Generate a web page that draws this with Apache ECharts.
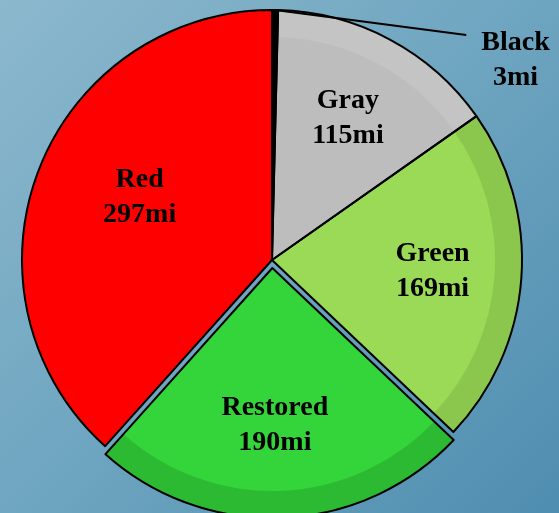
<!DOCTYPE html>
<html>
<head>
<meta charset="utf-8">
<script src="https://cdn.jsdelivr.net/npm/echarts@6/dist/echarts.min.js"></script>
<style>
html,body{margin:0;padding:0;}
#c{width:559px;height:513px;background:linear-gradient(135deg,#8cb8cd 0%,#6ea5c0 50%,#4f8db0 100%);}
</style>
</head>
<body>
<div id="c"></div>
<script>
const categories = ['Black', 'Gray', 'Green', 'Restored', 'Red'];
const miles = [3, 115, 169, 190, 297];
const baseColors = ['#000000', '#bdbdbd', '#9bda57', '#33d53a', '#ff0000'];
const ringColors = ['#000000', '#c4c4c4', '#8bc74c', '#2dba33', '#ff0000'];
const selectedName = 'Restored';

const chart = echarts.init(document.getElementById('c'), null, {renderer: 'canvas'});
const C = [272, 260];
const R = 250;
const font = {fontFamily: 'Liberation Serif', fontWeight: 'bold', fontSize: 28, color: '#000', lineHeight: 35};

function mk(colors) {
  return categories.map((n, i) => ({
    name: n, value: miles[i], selected: n === selectedName,
    itemStyle: {color: colors[i]}
  }));
}
const common = {
  type: 'pie', center: C, startAngle: 90, clockwise: true,
  selectedMode: 'single', selectedOffset: 8, animation: false, silent: true,
  avoidLabelOverlap: false, minAngle: 0
};
const labelShift = {Red: [18, -5], Restored: [-4, -4]};
chart.setOption({
  backgroundColor: 'transparent',
  series: [
    Object.assign({}, common, {
      radius: [0, R], data: mk(ringColors), label: {show: false}, labelLine: {show: false},
      itemStyle: {borderWidth: 0}, z: 1
    }),
    Object.assign({}, common, {
      radius: [0, R - 27], data: mk(baseColors), label: {show: false}, labelLine: {show: false},
      itemStyle: {borderWidth: 0}, z: 2
    }),
    Object.assign({}, common, {
      radius: [66, R], z: 3,
      data: categories.map((n, i) => ({
        name: n, value: miles[i], selected: n === selectedName,
        itemStyle: {color: 'rgba(0,0,0,0)', borderWidth: 0},
        label: i === 0 ? {position: 'outside', padding: [0, 0, 0, 15]} : {position: 'inside'},
        labelLine: {show: i === 0}
      })),
      label: Object.assign({
        show: true, align: 'center',
        formatter: p => p.dataIndex === 0
          ? '{gap| }\n{t|' + p.name + '}\n{t|' + p.value + 'mi}'
          : p.name + '\n' + p.value + 'mi',
        rich: {
          gap: {fontSize: 10, lineHeight: 50},
          t: Object.assign({}, font)
        }
      }, font),
      labelLine: {lineStyle: {color: '#000', width: 2}, length: 10, length2: 0, smooth: false},
      labelLayout: function (p) {
        if (p.dataIndex === 0) return {x: 508, y: 35, align: 'center', verticalAlign: 'middle'};
        const s = labelShift[categories[p.dataIndex]];
        if (s) return {dx: s[0], dy: s[1]};
        return {};
      }
    }),
    Object.assign({}, common, {
      radius: [0, R], z: 4,
      data: categories.map((n, i) => ({
        name: n, value: miles[i], selected: n === selectedName,
        itemStyle: {color: i === 0 ? '#000' : 'rgba(0,0,0,0)'}
      })),
      label: {show: false}, labelLine: {show: false},
      itemStyle: {borderColor: '#000', borderWidth: 2}
    })
  ]
});
</script>
</body>
</html>
